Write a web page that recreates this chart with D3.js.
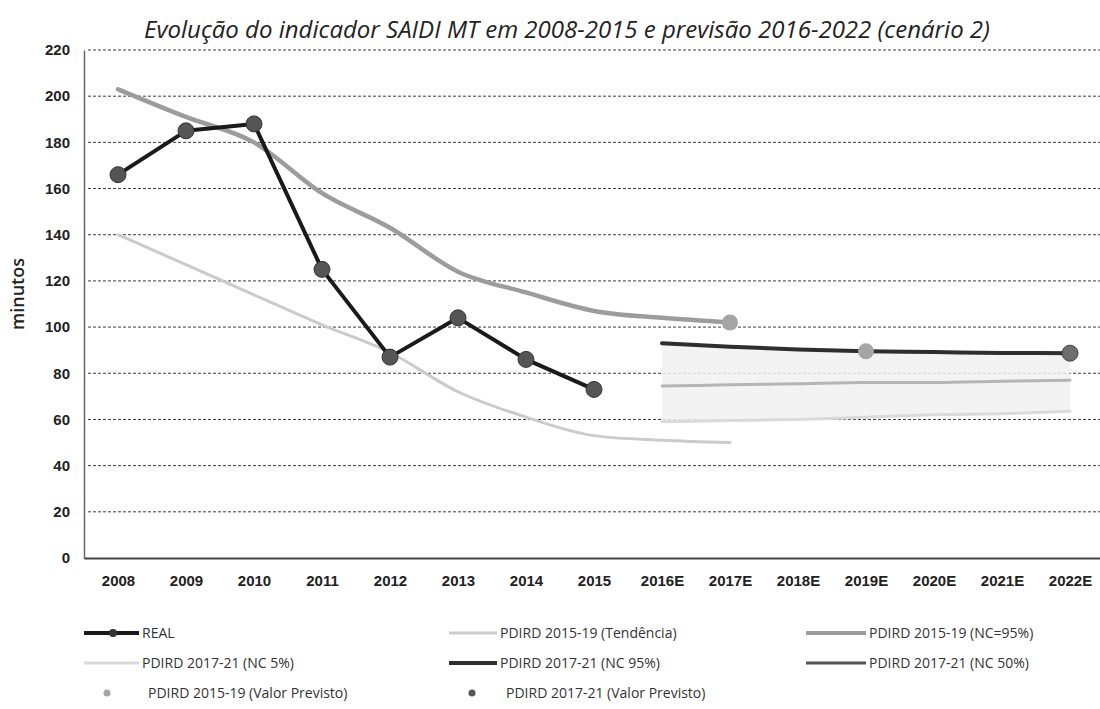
<!DOCTYPE html>
<html lang="pt">
<head>
<meta charset="UTF-8">
<title>Evolução do indicador SAIDI MT</title>
<style>
  body { margin: 0; background: #fff; }
  svg text { font-family: "Open Sans", sans-serif; fill: #222; }
  .grid line { stroke: #3a3a3a; stroke-width: 1; stroke-dasharray: 3,2; }
  .tick-y, .tick-x { font-family: "Liberation Sans", sans-serif; font-weight: bold; font-size: 15px; }
  .legend text { font-size: 14px; fill: #333; }
</style>
</head>
<body>
<svg id="chart" width="1100" height="709"></svg>
<script src="https://cdn.jsdelivr.net/npm/d3@7/dist/d3.min.js"></script>
<script>
// categories
const years = ["2008", "2009", "2010", "2011", "2012", "2013", "2014", "2015",
               "2016E", "2017E", "2018E", "2019E", "2020E", "2021E", "2022E"];
const histYears = years.slice(0, 8);
const plan1519Years = years.slice(0, 10);     // 2008 .. 2017E
const plan1721Years = years.slice(8);         // 2016E .. 2022E
const yTicks = [0, 20, 40, 60, 80, 100, 120, 140, 160, 180, 200, 220];

// series values (minutos)
const real = [166, 185, 188, 125, 87, 104, 86, 73];
const tend1519 = [140, 127, 114, 101, 89, 72, 61, 53, 51, 50];
const nc95_1519 = [203, 191, 180, 158, 143, 124, 115, 107, 104, 102];
const nc5_1721 = [59, 59.5, 60, 61, 62, 62.5, 63.5];
const nc50_1721 = [74.5, 75, 75.5, 76, 76, 76.5, 77];
const nc95_1721 = [93, 91.5, 90.3, 89.5, 89.2, 88.8, 88.7];
const prev1519Years = ["2017E", "2019E"];
const prev1519 = [102, 89.5];
const prev1721Years = ["2022E"];
const prev1721 = [88.7];

const svg = d3.select("#chart");
const plotTop = 50, plotBottom = 558, plotLeft = 84, plotRight = 1104;

const x = d3.scalePoint().domain(years).range([plotLeft, plotRight]).padding(0.5);
const y = d3.scaleLinear().domain([0, 220]).range([plotBottom, plotTop]);

// title
svg.append("text")
    .attr("x", 567).attr("y", 38)
    .attr("text-anchor", "middle")
    .style("font-style", "italic")
    .style("font-size", "24px")
    .style("fill", "#222")
    .text("Evolução do indicador SAIDI MT em 2008-2015 e previsão 2016-2022 (cenário 2)");

// gridlines
svg.append("g").attr("class", "grid")
    .selectAll("line")
    .data(yTicks.slice(1))
    .join("line")
    .attr("x1", plotLeft + 4).attr("x2", 1100)
    .attr("y1", d => y(d)).attr("y2", d => y(d));

// axes
const yAxis = svg.append("g")
    .attr("transform", `translate(${plotLeft},0)`)
    .call(d3.axisLeft(y).tickValues(yTicks).tickSize(0).tickPadding(14));
yAxis.select(".domain").attr("stroke", "#666").attr("stroke-width", 1.5);
yAxis.selectAll("text").attr("class", "tick-y").style("fill", "#222");

const xAxis = svg.append("g")
    .attr("transform", `translate(0,${plotBottom})`)
    .call(d3.axisBottom(x).tickSize(0).tickPadding(17));
xAxis.select(".domain").attr("stroke", "#444").attr("stroke-width", 1.8);
xAxis.selectAll("text").attr("class", "tick-x").style("fill", "#222");

// y title
svg.append("text")
    .attr("transform", "translate(24,294) rotate(-90)")
    .attr("text-anchor", "middle")
    .style("font-size", "18px")
    .style("font-weight", "600")
    .text("minutos");

// confidence band 2017-21
const band = plan1721Years.map((k, i) => ({ k, lo: nc5_1721[i], hi: nc95_1721[i] }));
svg.append("path")
    .datum(band)
    .attr("fill", "#f1f1f1")
    .attr("fill-opacity", 0.85)
    .attr("d", d3.area().x(d => x(d.k)).y0(d => y(d.lo)).y1(d => y(d.hi)));

function drawLine(keys, vals, color, width, curve) {
    const pts = keys.map((k, i) => [x(k), y(vals[i])]);
    svg.append("path")
        .datum(pts)
        .attr("fill", "none")
        .attr("stroke", color)
        .attr("stroke-width", width)
        .attr("stroke-linejoin", "round")
        .attr("stroke-linecap", "round")
        .attr("d", d3.line().curve(curve || d3.curveLinear));
}

drawLine(plan1519Years, tend1519, "#cbcbcb", 3, d3.curveMonotoneX);
drawLine(plan1519Years, nc95_1519, "#9c9c9c", 4.5, d3.curveMonotoneX);
drawLine(plan1721Years, nc5_1721, "#dadada", 3, d3.curveMonotoneX);
drawLine(plan1721Years, nc50_1721, "#b5b5b5", 3, d3.curveMonotoneX);
drawLine(plan1721Years, nc95_1721, "#2e2e2e", 4, d3.curveMonotoneX);
drawLine(histYears, real, "#1a1a1a", 4);

// markers
svg.append("g").selectAll("circle")
    .data(histYears.map((k, i) => [k, real[i]]))
    .join("circle")
    .attr("cx", d => x(d[0])).attr("cy", d => y(d[1]))
    .attr("r", 8).attr("fill", "#555").attr("stroke", "#333").attr("stroke-width", 1);

svg.append("g").selectAll("circle")
    .data(prev1519Years.map((k, i) => [k, prev1519[i]]))
    .join("circle")
    .attr("cx", d => x(d[0])).attr("cy", d => y(d[1]))
    .attr("r", 8).attr("fill", "#a5a5a5");

svg.append("g").selectAll("circle")
    .data(prev1721Years.map((k, i) => [k, prev1721[i]]))
    .join("circle")
    .attr("cx", d => x(d[0])).attr("cy", d => y(d[1]))
    .attr("r", 8).attr("fill", "#6e6e6e").attr("stroke", "#444");

// legend
const legendItems = [
    { label: "REAL", col: 0, row: 0, type: "line", color: "#1a1a1a", w: 4, marker: true },
    { label: "PDIRD 2015-19 (Tendência)", col: 1, row: 0, type: "line", color: "#cbcbcb", w: 3 },
    { label: "PDIRD 2015-19 (NC=95%)", col: 2, row: 0, type: "line", color: "#9c9c9c", w: 4 },
    { label: "PDIRD 2017-21 (NC 5%)", col: 0, row: 1, type: "line", color: "#dadada", w: 3 },
    { label: "PDIRD 2017-21 (NC 95%)", col: 1, row: 1, type: "line", color: "#2e2e2e", w: 4 },
    { label: "PDIRD 2017-21 (NC 50%)", col: 2, row: 1, type: "line", color: "#555", w: 3 },
    { label: "PDIRD 2015-19 (Valor Previsto)", col: 0, row: 2, type: "dot", color: "#a5a5a5" },
    { label: "PDIRD 2017-21 (Valor Previsto)", col: 1, row: 2, type: "dot", color: "#555" }
];
const colX = [84, 449, 806];
const colTextX = [142, 500, 869];
const rowY = [633, 663, 693];

const lg = svg.append("g").attr("class", "legend");
legendItems.forEach(d => {
    const g = lg.append("g");
    const yy = rowY[d.row];
    if (d.type === "line") {
        g.append("line")
            .attr("x1", colX[d.col]).attr("x2", colTextX[d.col] - 3)
            .attr("y1", yy).attr("y2", yy)
            .attr("stroke", d.color).attr("stroke-width", d.w);
        if (d.marker) {
            g.append("circle").attr("cx", (colX[d.col] + colTextX[d.col]) / 2).attr("cy", yy)
                .attr("r", 4).attr("fill", "#333");
        }
    } else {
        g.append("circle")
            .attr("cx", colX[d.col] + 23).attr("cy", yy)
            .attr("r", 3.5).attr("fill", d.color);
    }
    g.append("text")
        .attr("x", colTextX[d.col] + (d.type === "dot" ? 6 : 0))
        .attr("y", yy)
        .attr("dy", "0.35em")
        .text(d.label);
});
</script>
</body>
</html>
